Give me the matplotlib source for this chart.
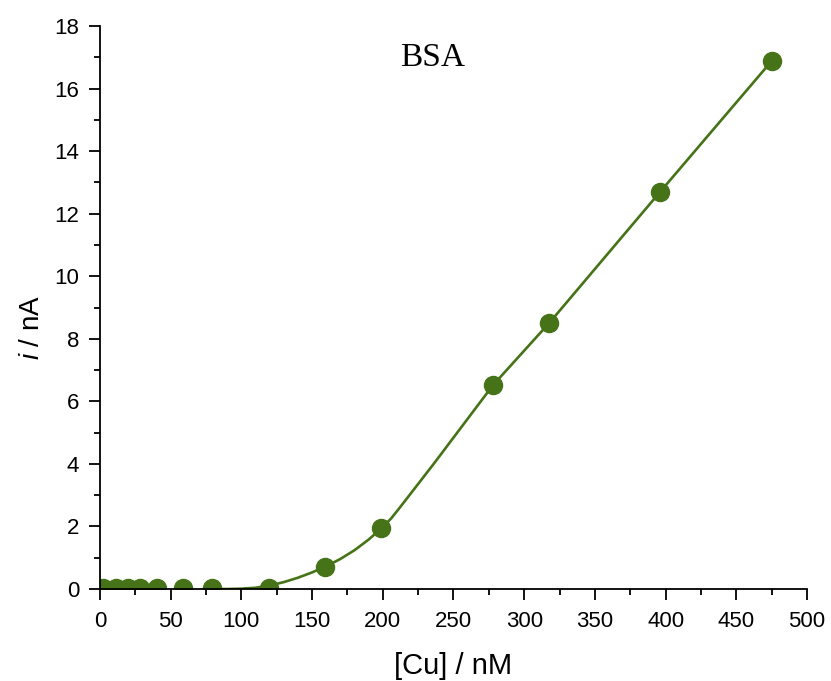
import numpy as np
import matplotlib.pyplot as plt
from matplotlib.ticker import MultipleLocator

plt.rcParams['font.family'] = ['Liberation Sans', 'DejaVu Sans']
plt.rcParams['mathtext.fontset'] = 'custom'
plt.rcParams['mathtext.it'] = 'Liberation Sans:italic'
plt.rcParams['mathtext.rm'] = 'Liberation Sans'

# measured points: copper concentration (nM) vs current (nA)
cu = [2, 11, 20, 28, 40, 59, 79, 119.5, 159, 199, 278, 317.5, 396, 475]
current = [0.03, 0.03, 0.03, 0.03, 0.02, 0.02, 0.02, 0.02, 0.70, 1.95, 6.52, 8.50, 12.69, 16.88]

# fitted curve
fit_x = [80, 90, 100, 110, 120, 130, 140, 150, 160, 170, 180, 190, 200,
         206, 212, 224, 236, 260, 278, 318, 396, 475]
fit_y = [0.0, 0.0, 0.01, 0.04, 0.11, 0.22, 0.36, 0.53, 0.73, 0.96, 1.24, 1.58, 1.98,
         2.26, 2.60, 3.30, 4.00, 5.44, 6.52, 8.52, 12.69, 16.88]

color = '#467318'

fig = plt.figure(figsize=(8.31, 6.81), dpi=100)
ax = fig.add_axes([0.1203, 0.1351, 0.8508, 0.8267])

ax.plot(fit_x, fit_y, color=color, lw=1.9, zorder=2, solid_joinstyle='round')
pts, = ax.plot(cu, current, 'o', color=color, ms=13, zorder=2.2)
pts.set_clip_on(True)

ax.set_xlim(0, 500)
ax.set_ylim(0, 18)
ax.xaxis.set_major_locator(MultipleLocator(50))
ax.xaxis.set_minor_locator(MultipleLocator(25))
ax.yaxis.set_major_locator(MultipleLocator(2))
ax.yaxis.set_minor_locator(MultipleLocator(1))

for s in ['top', 'right']:
    ax.spines[s].set_visible(False)
for s in ['left', 'bottom']:
    ax.spines[s].set_linewidth(1.3)
    ax.spines[s].set_zorder(3)

ax.tick_params(which='major', direction='out', length=8, width=1.3, labelsize=16)
ax.tick_params(axis='x', which='major', pad=8)
ax.tick_params(axis='y', which='major', pad=7)
ax.tick_params(which='minor', direction='out', length=4.5, width=1.3)

ax.set_xlabel('[Cu] / nM', fontsize=21, labelpad=14)
ax.set_ylabel(r'$i$ / nA', fontsize=20, labelpad=10)
ax.yaxis.set_label_coords(-0.078, 0.465)

ax.text(235.5, 17.0, 'BSA', family='Liberation Serif', fontsize=24,
        ha='center', va='center')

fig.savefig('out.png', dpi=100)
